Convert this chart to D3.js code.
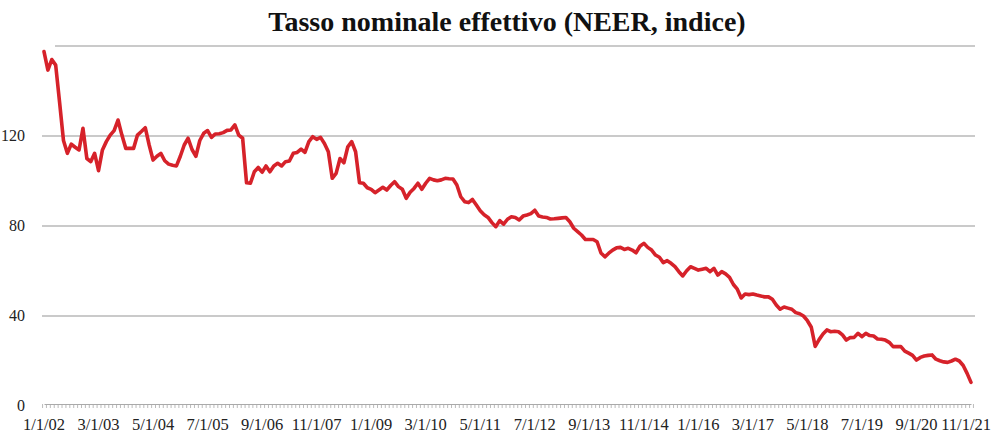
<!DOCTYPE html>
<html>
<head>
<meta charset="utf-8">
<script src="https://cdn.jsdelivr.net/npm/d3@7"></script>
<style>
  html, body { margin: 0; padding: 0; background: #fff; }
  svg { display: block; }
</style>
</head>
<body>
<svg id="chart" width="993" height="436"></svg>
<script>
// ---- data ----
const title = "Tasso nominale effettivo (NEER, indice)";
const startMonth = new Date(2002, 0, 1);
const endMonthExclusive = new Date(2021, 11, 1);
const categories = d3.timeMonth.range(startMonth, endMonthExclusive); // 1/1/02 .. 11/1/21
const neerValues = [
  157.5,149.3,154,151.5,135,118,112.3,116.4,115,113.8,
  123.4,110,108.6,112.3,104.6,113.8,117.5,120.4,122.4,127.1,
  120.4,114.5,114.5,114.5,120.4,122,123.7,116,109.3,111,
  112.3,109,107.5,107,106.7,111,116,119,114,111,
  118,121.2,122.4,119.4,120.9,121,121.5,122.5,122.7,124.9,
  120.4,119,99.2,99,104.1,106,103.9,106.7,104.1,106.7,
  107.9,106.7,108.6,108.9,112.3,112.7,114.2,112.7,117.5,119.7,
  118.5,119.4,116.7,113,101.2,103.4,110,108.1,115.2,117.5,
  113,99.2,99,97,96.3,94.8,96,97.2,96,98,
  99.7,97.5,96.3,92.3,95,96.7,99,96.3,99,101.2,
  100.5,100.1,100.5,101.2,101,100.9,98.2,93,90.8,90.4,
  91.8,89.3,86.8,85,83.8,81.5,79.7,82.4,80.8,83,
  84.1,83.8,82.7,84.4,84.9,85.5,87,84.4,84,83.8,
  83.1,83.2,83.4,83.6,83.8,81.9,79,77.5,76,74,
  74,74,73,68,66.3,67.9,69.3,70.3,70.5,69.6,
  70.1,69.3,68.1,71,72.3,70.5,69.3,67.1,66.1,63.7,
  64.6,63.4,61.9,59.7,57.8,60.1,61.9,61.2,60.4,60.8,
  61.2,59.7,61.2,58.2,59.7,58.7,57.2,54,51.9,48,
  49.8,49.5,49.8,49.3,48.9,48.5,48.5,47.4,44.9,43,
  44,43.5,43,41.5,41,40,37.9,35,26.5,29.5,
  32,33.8,33,33.2,33,31.6,29.3,30.4,30.5,32.3,
  30.8,32.3,31.3,31.1,29.8,29.7,29.3,28.3,26.4,26.4,
  26.4,24.4,23.5,22.5,20.4,21.6,22.2,22.5,22.7,20.8,
  20.1,19.6,19.4,20,20.8,20,18,14.5,10.5
];
const yTicks = [0, 40, 80, 120, 160];
const yTickLabels = ["0", "40", "80", "120", ""];
const xTickLabels = ["1/1/02","3/1/03","5/1/04","7/1/05","9/1/06","11/1/07","1/1/09","3/1/10","5/1/11",
                     "7/1/12","9/1/13","11/1/14","1/1/16","3/1/17","5/1/18","7/1/19","9/1/20","11/1/21"];
const labelEvery = 14;

// ---- layout ----
const svg = d3.select("#chart");
const plot = { left: 44, right: 971, top: 46, bottom: 406 };

const x = d3.scaleLinear().domain([0, categories.length - 1]).range([plot.left, plot.right]);
const y = d3.scaleLinear().domain([0, 160]).range([plot.bottom, plot.top]);

// title
svg.append("text")
  .attr("x", 507).attr("y", 31)
  .attr("text-anchor", "middle")
  .attr("font-family", "'Liberation Serif', 'Times New Roman', serif")
  .attr("font-weight", "bold")
  .attr("font-size", 28)
  .attr("fill", "#111")
  .text(title);

// gridlines
const grid = svg.append("g");
grid.selectAll("line")
  .data(yTicks.filter(d => d > 0))
  .join("line")
  .attr("x1", d => d === 160 ? 55 : 42)
  .attr("x2", 975)
  .attr("y1", d => y(d)).attr("y2", d => y(d))
  .attr("stroke", "#b9b9b9")
  .attr("stroke-width", 1.5);

// y labels
svg.append("g").selectAll("text")
  .data(yTicks)
  .join("text")
  .attr("x", 25)
  .attr("y", d => y(d) + 5)
  .attr("text-anchor", "end")
  .attr("font-family", "'Liberation Serif', serif")
  .attr("font-size", 16)
  .attr("fill", "#222")
  .text((d, i) => yTickLabels[i]);

// x axis comb (monthly ticks)
const axisG = svg.append("g").attr("transform", `translate(0,${plot.bottom - 2})`);
const xAxis = d3.axisBottom(x)
  .tickValues(d3.range(-0.5, categories.length + 0.5, 1))
  .tickSize(4)
  .tickSizeOuter(0)
  .tickFormat("");
axisG.call(xAxis);
axisG.select(".domain").attr("stroke", "#aaa").attr("stroke-width", 1);
axisG.selectAll(".tick line").attr("stroke", "#aaa").attr("stroke-width", 0.8);

// x labels
svg.append("g").selectAll("text")
  .data(xTickLabels)
  .join("text")
  .attr("x", (d, i) => i === xTickLabels.length - 1 ? 991 : x(i * labelEvery))
  .attr("y", 430)
  .attr("text-anchor", (d, i) => i === xTickLabels.length - 1 ? "end" : "middle")
  .attr("font-family", "'Liberation Serif', serif")
  .attr("font-size", 16.5)
  .attr("fill", "#222")
  .text(d => d);

// line
const line = d3.line()
  .x((d, i) => x(i))
  .y(d => y(d))
  .curve(d3.curveLinear);

svg.append("path")
  .datum(neerValues)
  .attr("d", line)
  .attr("fill", "none")
  .attr("stroke", "#d6222a")
  .attr("stroke-width", 3.6)
  .attr("stroke-linejoin", "round")
  .attr("stroke-linecap", "round");
</script>
</body>
</html>
